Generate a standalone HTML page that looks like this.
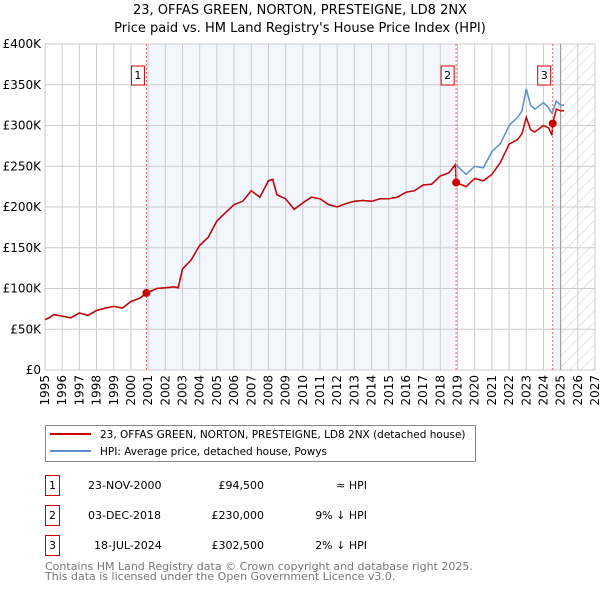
<!DOCTYPE html>
<html><head><meta charset="utf-8"><style>
body{margin:0;background:#fff;font-family:"DejaVu Sans","Liberation Sans",sans-serif;}
svg text{font-family:"DejaVu Sans","Liberation Sans",sans-serif;}
</style></head><body>
<svg id="chart" width="600" height="590" viewBox="0 0 600 590" xmlns="http://www.w3.org/2000/svg">
<defs><pattern id="hatch" width="8" height="8" patternUnits="userSpaceOnUse" patternTransform="rotate(45)"><line x1="0" y1="0" x2="0" y2="8" stroke="#ccc" stroke-width="1"/></pattern></defs>
<text x="300" y="14" text-anchor="middle" font-size="13">23, OFFAS GREEN, NORTON, PRESTEIGNE, LD8 2NX</text>
<text x="300" y="32" text-anchor="middle" font-size="13">Price paid vs. HM Land Registry's House Price Index (HPI)</text>
<g id="bg"></g><g id="grid"></g><g id="series"></g><g id="marks"></g><g id="axes"></g>
<g>
<rect x="45.5" y="425.5" width="430" height="36" fill="#fff" stroke="#888"/>
<line x1="50" y1="434" x2="91" y2="434" stroke="#cc0000" stroke-width="2"/>
<text x="100" y="438" font-size="10.5">23, OFFAS GREEN, NORTON, PRESTEIGNE, LD8 2NX (detached house)</text>
<line x1="50" y1="451" x2="91" y2="451" stroke="#5b8fd0" stroke-width="2"/>
<text x="100" y="455" font-size="10.5">HPI: Average price, detached house, Powys</text>
</g>
<g font-size="11">
<rect x="45.5" y="475.5" width="14" height="20" fill="#fff" stroke="#cc0000"/><text x="52.5" y="489" text-anchor="middle">1</text>
<text x="88" y="489">23-NOV-2000</text><text x="264" y="489" text-anchor="end">£94,500</text><text x="367" y="489" text-anchor="end">≈ HPI</text>
<rect x="45.5" y="505.5" width="14" height="20" fill="#fff" stroke="#cc0000"/><text x="52.5" y="519" text-anchor="middle">2</text>
<text x="88" y="519">03-DEC-2018</text><text x="264" y="519" text-anchor="end">£230,000</text><text x="367" y="519" text-anchor="end">9% ↓ HPI</text>
<rect x="45.5" y="535.5" width="14" height="20" fill="#fff" stroke="#cc0000"/><text x="52.5" y="549" text-anchor="middle">3</text>
<text x="94" y="549">18-JUL-2024</text><text x="264" y="549" text-anchor="end">£302,500</text><text x="367" y="549" text-anchor="end">2% ↓ HPI</text>
</g>
<text x="45" y="570" font-size="11" fill="#777">Contains HM Land Registry data © Crown copyright and database right 2025.</text>
<text x="45" y="580" font-size="11" fill="#777">This data is licensed under the Open Government Licence v3.0.</text>
</svg>
<script>
const hpiYears=[1995,1995.25,1995.5,1996,1996.5,1997,1997.5,1998,1998.5,1999,1999.5,2000,2000.5,2000.9,2001.5,2002,2002.5,2002.75,2003,2003.5,2004,2004.5,2005,2005.5,2006,2006.5,2007,2007.5,2008,2008.25,2008.5,2009,2009.5,2010,2010.5,2011,2011.5,2012,2012.5,2013,2013.5,2014,2014.5,2015,2015.5,2016,2016.5,2017,2017.5,2018,2018.5,2018.9,2019.25,2019.5,2020,2020.5,2021,2021.5,2022,2022.5,2022.75,2023,2023.25,2023.5,2024,2024.25,2024.5,2024.75,2025,2025.2];
const hpiValues=[62,64,68,66,64,70,67,73,76,78,76,84,88,93,100,101,102,101,124,135,153,163,183,193,203,207,220,212,232,234,215,210,197,205,212,210,203,200,204,207,208,207,210,210,212,218,220,227,228,238,242,252,245,240,250,248,268,278,300,310,318,345,325,320,328,323,315,330,325,325];
const ppYears=[1995,1995.25,1995.5,1996,1996.5,1997,1997.5,1998,1998.5,1999,1999.5,2000,2000.5,2000.9,2001.5,2002,2002.5,2002.75,2003,2003.5,2004,2004.5,2005,2005.5,2006,2006.5,2007,2007.5,2008,2008.25,2008.5,2009,2009.5,2010,2010.5,2011,2011.5,2012,2012.5,2013,2013.5,2014,2014.5,2015,2015.5,2016,2016.5,2017,2017.5,2018,2018.5,2018.88,2018.92,2019.5,2020,2020.5,2021,2021.5,2022,2022.5,2022.75,2023,2023.25,2023.5,2024,2024.3,2024.5,2024.54,2024.75,2025,2025.2];
const ppValues=[62,64,68,66,64,70,67,73,76,78,76,84,88,94.5,100,101,102,101,124,135,153,163,183,193,203,207,220,212,232,234,215,210,197,205,212,210,203,200,204,207,208,207,210,210,212,218,220,227,228,238,242,252,230,225,235,232,240,255,277,283,290,310,295,292,300,297,288,302.5,320,318,318];
const saleLabels=["1","2","3"];
const saleYears=[2000.9,2018.92,2024.54];
const saleValues=[94.5,230,302.5];
const yTicks=[0,50,100,150,200,250,300,350,400];
const yTickLabels=["£0","£50K","£100K","£150K","£200K","£250K","£300K","£350K","£400K"];
const xTicks=[1995,1996,1997,1998,1999,2000,2001,2002,2003,2004,2005,2006,2007,2008,2009,2010,2011,2012,2013,2014,2015,2016,2017,2018,2019,2020,2021,2022,2023,2024,2025,2026,2027];

const X0=45,X1=595,Y0=370,Y1=44;
const xs=y=>X0+(y-1995)/(2027-1995)*(X1-X0);
const ys=v=>Y0-v/400*(Y0-Y1);
const NS="http://www.w3.org/2000/svg";
function mk(tag,attrs,parent){const e=document.createElementNS(NS,tag);for(const k in attrs)e.setAttribute(k,attrs[k]);document.getElementById(parent).appendChild(e);return e;}

let r=mk('rect',{x:xs(saleYears[0]),y:Y1,width:xs(saleYears[1])-xs(saleYears[0]),height:Y0-Y1,fill:'#f3f6fd'},'bg');


r=mk('rect',{x:xs(saleYears[2]),y:Y1,width:xs(2025)-xs(saleYears[2]),height:Y0-Y1,fill:'#f3f6fd'},'bg');


r=mk('rect',{x:xs(2025),y:Y1,width:X1-xs(2025),height:Y0-Y1,fill:'url(#hatch)'},'bg');



xTicks.forEach(t=>{
 const l=mk('line',{x1:xs(t),x2:xs(t),y1:Y1,y2:Y0,stroke:'#ccc','stroke-width':1},'grid');
 
 
 const tx=mk('text',{x:0,y:0,'font-size':12,'text-anchor':'end',transform:`translate(${xs(t)+4},${Y0+5}) rotate(-90)`},'axes');
 tx.textContent=t;
 
 
});
yTicks.forEach((t,i)=>{
 const l=mk('line',{x1:X0,x2:X1,y1:ys(t),y2:ys(t),stroke:'#ccc','stroke-width':1},'grid');
 
 
 const tx=mk('text',{x:X0-4,y:ys(t)+4,'font-size':12,'text-anchor':'end'},'axes');
 tx.textContent=yTickLabels[i];
 
 
});
let b=mk('line',{x1:xs(2025),x2:xs(2025),y1:Y1,y2:Y0,stroke:'#999','stroke-width':1},'grid');



function path(xa,va){return xa.map((y,i)=>(i?'L':'M')+xs(y).toFixed(1)+','+ys(va[i]).toFixed(1)).join('');}
let p=mk('path',{d:path(hpiYears,hpiValues),fill:'none',stroke:'#5b8fd0','stroke-width':1.5},'series');


p=mk('path',{d:path(ppYears,ppValues),fill:'none',stroke:'#cc0000','stroke-width':1.5},'series');



saleYears.forEach((y,i)=>{
 const l=mk('line',{x1:xs(y),x2:xs(y),y1:Y1,y2:Y0,stroke:'#e06666','stroke-width':1,'stroke-dasharray':'2,2'},'marks');
 
 
 const c=mk('circle',{cx:xs(y),cy:ys(saleValues[i]),r:4,fill:'#cc0000'},'marks');
 
 
 const bx=mk('rect',{x:xs(y)-15,y:66,width:13,height:19,fill:'#fff',stroke:'#cc0000'},'marks');
 
 
 const t=mk('text',{x:xs(y)-8.5,y:79,'font-size':11,'text-anchor':'middle'},'marks');
 t.textContent=saleLabels[i];
 
 
});
</script>
</body></html>
